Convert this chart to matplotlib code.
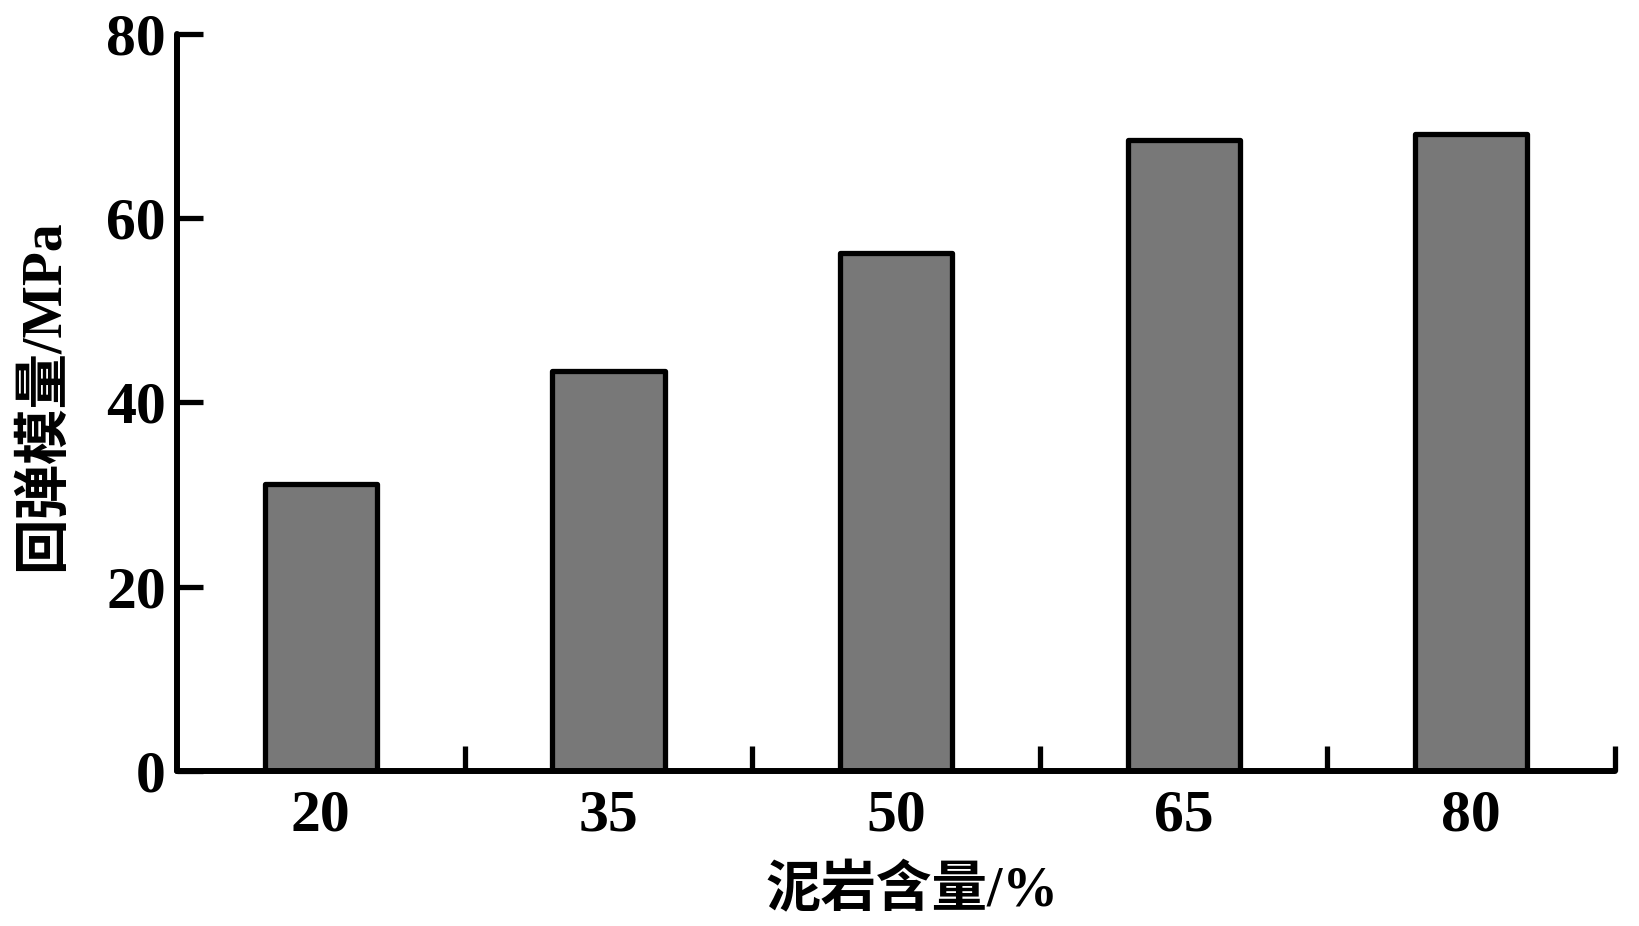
import matplotlib
matplotlib.use('Agg')
import matplotlib.pyplot as plt
import numpy as np

# data
categories = ['20', '35', '50', '65', '80']
modulus = [31.2, 43.4, 56.2, 68.5, 69.1]
yticks = [0, 20, 40, 60, 80]

plt.rcParams['font.family'] = ['Liberation Serif', 'Noto Sans CJK SC', 'DejaVu Sans']
plt.rcParams['font.weight'] = 'bold'

fig = plt.figure(figsize=(16.39, 9.26), dpi=100)
ax = fig.add_axes([0.108, 0.1674, 0.8774, 0.7959])

x = np.arange(len(categories))
ax.bar(x, modulus, width=0.39, color='#787878', edgecolor='black',
       linewidth=3.8, joinstyle='round', zorder=2)

ax.set_xlim(-0.5, len(categories) - 0.5)
ax.set_ylim(0, 80)

ax.spines['top'].set_visible(False)
ax.spines['right'].set_visible(False)
for s in ['left', 'bottom']:
    ax.spines[s].set_linewidth(4.3)
    ax.spines[s].set_capstyle('round')
    ax.spines[s].set_zorder(3)

ax.set_xticks(x)
ax.set_xticklabels(categories)
ax.set_xticks(np.arange(0.5, len(categories), 1.0), minor=True)
ax.tick_params(axis='x', which='major', length=0, pad=13, labelsize=43)
ax.tick_params(axis='x', which='minor', direction='in', length=18, width=3.8)

ax.set_yticks(yticks)
ax.tick_params(axis='y', direction='in', length=19, width=3.8, pad=8, labelsize=43)

ax.set_xlabel('泥岩含量/%', fontsize=40, fontweight='bold', va='center')
ax.xaxis.set_label_coords(0.511, -0.164)
ax.set_ylabel('回弹模量/MPa', fontsize=40, fontweight='bold', va='center')
ax.yaxis.set_label_coords(-0.0925, 0.51)

fig.savefig('out.png', dpi=100, facecolor='white')
